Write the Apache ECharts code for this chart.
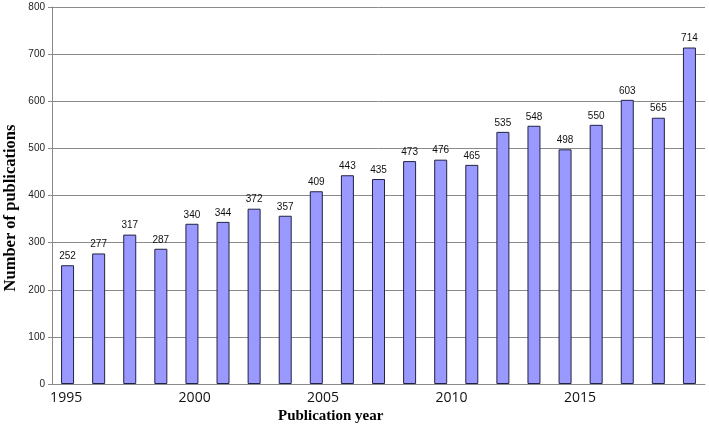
<!DOCTYPE html>
<html>
<head>
<meta charset="utf-8">
<script src="https://cdn.jsdelivr.net/npm/echarts@6/dist/echarts.min.js"></script>
<style>
  html, body {margin: 0; padding: 0; background: #fff;}
  #chart {width: 709px; height: 429px;}
</style>
</head>
<body>
<div id="chart"></div>
<script>
const years = ['1995', '1996', '1997', '1998', '1999', '2000', '2001', '2002', '2003', '2004', '2005',
    '2006', '2007', '2008', '2009', '2010', '2011', '2012', '2013', '2014', '2015'];
const publications = [252, 277, 317, 287, 340, 344, 372, 357, 409, 443, 435,
    473, 476, 465, 535, 548, 498, 550, 603, 565, 714];
const yearTicks = [1995, 2000, 2005, 2010, 2015];

const chart = echarts.init(document.getElementById('chart'));
const gray = '#8a8a8a';

chart.setOption({
    animation: false,
    grid: {left: 52, right: 4, top: 7, bottom: 45, outerBoundsMode: 'none', containLabel: false},
    xAxis: [
        {
            type: 'category',
            data: years,
            axisLine: {lineStyle: {color: gray, width: 1}},
            axisTick: {show: false},
            axisLabel: {show: false},
        },
        {
            // year scale for the bottom labels
            type: 'value',
            position: 'bottom',
            min: 1994.45,
            max: 2019.86,
            axisLine: {show: false},
            axisTick: {show: false},
            splitLine: {show: false},
            axisLabel: {
                customValues: yearTicks,
                color: '#111',
                fontSize: 14,
                fontFamily: 'Open Sans',
                margin: 7,
                formatter: (v) => String(Math.round(v)),
            },
        },
    ],
    yAxis: {
        type: 'value',
        min: 0,
        max: 800,
        interval: 100,
        axisLine: {show: true, lineStyle: {color: gray, width: 1}},
        axisTick: {show: true, inside: false, length: 4, lineStyle: {color: gray}},
        axisLabel: {color: '#222', fontSize: 10, fontFamily: 'Liberation Sans', margin: 7},
        splitLine: {lineStyle: {color: gray, width: 1}},
    },
    graphic: [
        {
            type: 'text',
            x: 11,
            y: 208,
            rotation: Math.PI / 2,
            style: {
                text: 'Number of publications',
                fill: '#000',
                font: 'bold 16.5px "Liberation Serif"',
                align: 'center',
                verticalAlign: 'middle',
            },
        },
        {
            type: 'text',
            left: 278,
            top: 409,
            style: {
                text: 'Publication year',
                fill: '#000',
                font: 'bold 15px "Liberation Serif"',
            },
        },
    ],
    series: [
        {
            type: 'bar',
            xAxisIndex: 0,
            data: publications,
            barWidth: 13,
            itemStyle: {color: '#9999ff', borderColor: '#222244', borderWidth: 1},
            label: {
                show: true,
                position: 'top',
                distance: 4,
                color: '#111',
                fontSize: 10,
                fontFamily: 'Liberation Sans',
            },
        },
    ],
});
</script>
</body>
</html>
